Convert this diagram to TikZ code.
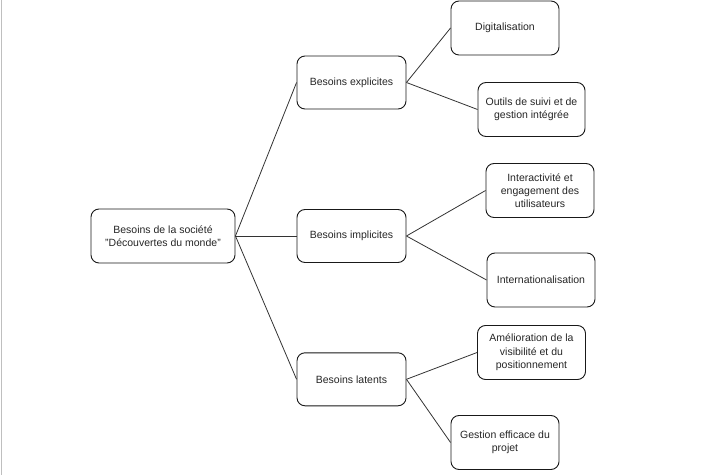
\documentclass[tikz,border=0pt]{standalone}
\usepackage{fontspec}
\setmainfont{Liberation Sans}
\begin{document}
\begin{tikzpicture}[x=1bp,y=-1bp,
  box/.style={draw=black!90, line width=0.9bp, rounded corners=8bp, fill=white,
    minimum width=108bp, minimum height=54bp, align=center, inner sep=2bp,
    text=black!85, font=\fontsize{10.5bp}{13.3bp}\selectfont},
  link/.style={draw=black!80, line width=0.8bp}]
  % page frame
  \useasboundingbox (0,0) rectangle (710,475);
  \draw[draw=black!25, line width=1bp] (1.5,0) -- (1.5,475);

  % root
  \node[box, minimum width=144bp] (root) at (163,236) {Besoins de la société\\"Découvertes du monde"};

  % second level
  \node[box, minimum width=109bp, minimum height=53bp] (expl) at (351.5,82.5) {Besoins explicites};
  \node[box, minimum width=109bp, minimum height=53bp] (impl) at (351.5,236) {Besoins implicites};
  \node[box, minimum width=109bp, minimum height=53bp] (lat) at (351.5,379.3) {Besoins latents};

  % leaves
  \node[box] (dig) at (505,28) {Digitalisation};
  \node[box, minimum width=107bp] (outil) at (531.5,109.5) {Outils de suivi et de\\gestion intégrée};
  \node[box] (inter) at (540,190.5) {Interactivité et\\engagement des\\utilisateurs};
  \node[box] (intl) at (541,280) {Internationalisation};
  \node[box] (amel) at (531.5,352.5) {Amélioration de la\\visibilité et du\\positionnement};
  \node[box] (gest) at (505,442.5) {Gestion efficace du\\projet};

  % connectors
  \draw[link] (root.east) -- (expl.west);
  \draw[link] (root.east) -- (impl.west);
  \draw[link] (root.east) -- (lat.west);
  \draw[link] (expl.east) -- (dig.west);
  \draw[link] (expl.east) -- (outil.west);
  \draw[link] (impl.east) -- (inter.west);
  \draw[link] (impl.east) -- (intl.west);
  \draw[link] (lat.east) -- (amel.west);
  \draw[link] (lat.east) -- (gest.west);
\end{tikzpicture}
\end{document}
